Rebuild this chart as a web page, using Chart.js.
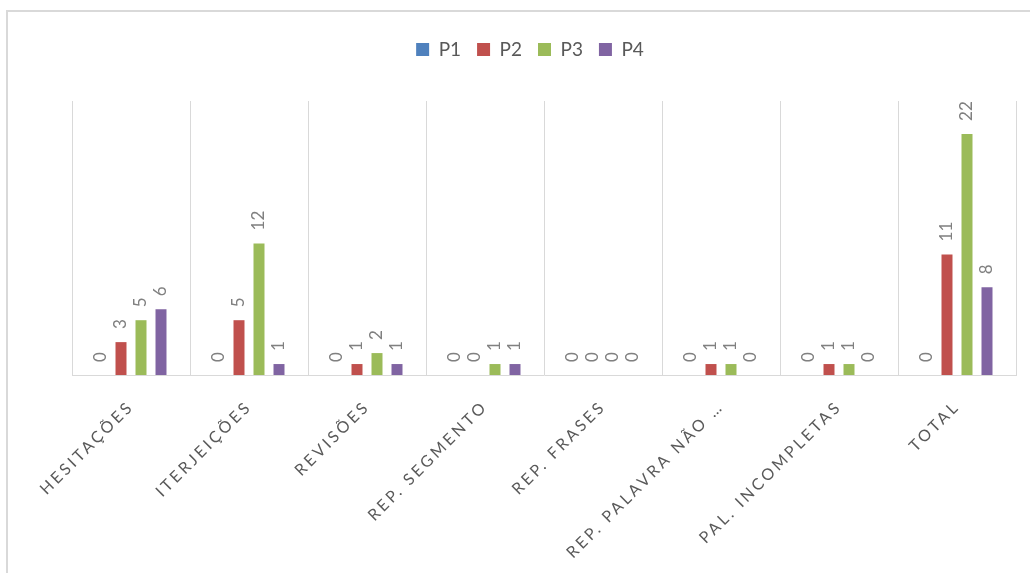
<!DOCTYPE html>
<html>
<head>
<meta charset="utf-8">
<script src="https://cdn.jsdelivr.net/npm/chart.js@4.4.0/dist/chart.umd.min.js"></script>
<style>
  html, body { margin: 0; padding: 0; background: #fff; }
  #frame { position: absolute; left: 6px; top: 10px; width: 1100px; height: 700px; border: 2px solid #d9d9d9; box-sizing: border-box; }
  #wrap { position: absolute; left: 0; top: 0; width: 1030px; height: 573px; }
</style>
</head>
<body>
<div id="frame"></div>
<div id="wrap"><canvas id="chart"></canvas></div>
<script>
// categorias e valores por participante
const categories = ['HESITAÇÕES', 'ITERJEIÇÕES', 'REVISÕES', 'REP. SEGMENTO', 'REP. FRASES', 'REP. PALAVRA NÃO …', 'PAL. INCOMPLETAS', 'TOTAL'];
const seriesNames = ['P1', 'P2', 'P3', 'P4'];
const p1 = [0, 0, 0, 0, 0, 0, 0, 0];
const p2 = [3, 5, 1, 0, 0, 1, 1, 11];
const p3 = [5, 12, 2, 1, 0, 1, 1, 22];
const p4 = [6, 1, 1, 1, 0, 0, 0, 8];
const colors = ['#4F81BD', '#C0504D', '#9BBB59', '#8064A2'];

// rótulos de dados verticais acima das barras
const barLabels = {
    id: 'barLabels',
    afterDatasetsDraw(chart) {
        const ctx = chart.ctx;
        ctx.save();
        ctx.font = '17px Lato';
        ctx.fillStyle = '#808080';
        ctx.textAlign = 'left';
        ctx.textBaseline = 'middle';
        chart.data.datasets.forEach((ds, i) => {
            chart.getDatasetMeta(i).data.forEach((bar, j) => {
                ctx.save();
                ctx.translate(bar.x, bar.y - 13);
                ctx.rotate(-Math.PI / 2);
                ctx.fillText(String(ds.data[j]), 0, 0);
                ctx.restore();
            });
        });
        ctx.restore();
    }
};

// espaço extra abaixo da legenda + espaçamento entre letras no eixo x
const excelLook = {
    id: 'excelLook',
    afterInit(chart) {
        const lg = chart.legend;
        const fit = lg.fit;
        lg.fit = function () { fit.call(this); this.height += 32; };
    },
    beforeDraw(chart) {
        const sx = chart.scales.x;
        if (!sx._spaced) {
            const orig = sx.drawLabels;
            sx.drawLabels = function (area) {
                const c = this.ctx;
                const prev = c.letterSpacing;
                c.letterSpacing = '3px';
                orig.call(this, area);
                c.letterSpacing = prev;
            };
            sx._spaced = true;
        }
    }
};

new Chart(document.getElementById('chart'), {
    type: 'bar',
    data: {
        labels: categories,
        datasets: [p1, p2, p3, p4].map((d, i) => ({
            label: seriesNames[i],
            data: d,
            backgroundColor: colors[i],
            categoryPercentage: 0.678,
            barPercentage: 0.55
        }))
    },
    options: {
        responsive: true,
        maintainAspectRatio: false,
        animation: false,
        layout: { padding: { left: 44, right: 14, top: 24, bottom: 0 } },
        plugins: {
            legend: {
                position: 'top',
                labels: {
                    boxWidth: 13,
                    boxHeight: 13,
                    padding: 16,
                    color: '#595959',
                    font: { family: 'Lato', size: 19 }
                }
            },
            tooltip: { enabled: false }
        },
        scales: {
            x: {
                grid: { display: true, offset: true, color: '#d9d9d9', drawTicks: false },
                border: { display: true, color: '#d9d9d9', width: 1 },
                ticks: {
                    color: '#595959',
                    font: { family: 'Lato', size: 16 },
                    minRotation: 45,
                    maxRotation: 45,
                    padding: 22,
                    autoSkip: false
                },
                afterFit(scale) { scale.height = 198; }
            },
            y: {
                min: 0,
                max: 25,
                grid: { display: false },
                border: { display: false },
                ticks: { display: false },
                afterFit(scale) { scale.width = 28; }
            }
        }
    },
    plugins: [barLabels, excelLook]
});
</script>
</body>
</html>
